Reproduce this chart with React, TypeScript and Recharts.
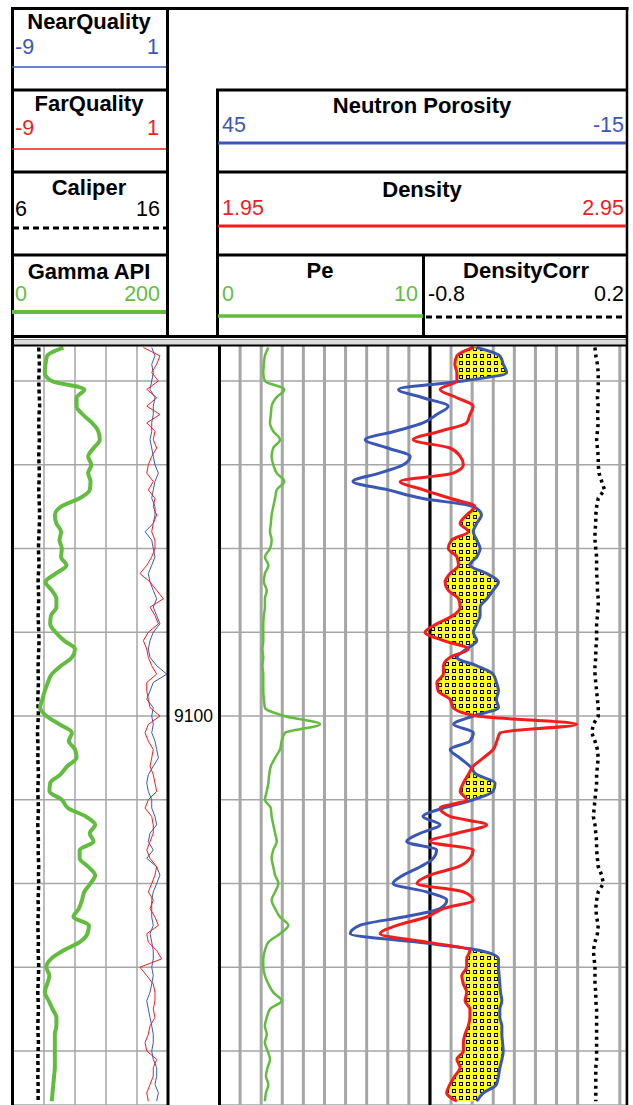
import React from 'react';
import { ComposedChart, Line, Area, XAxis, YAxis, CartesianGrid, ReferenceLine } from 'recharts';

const depths = [
  9056, 9057, 9058, 9059, 9060, 9061, 9062, 9063, 9064, 9065,
  9066, 9067, 9068, 9069, 9070, 9071, 9072, 9073, 9074, 9075,
  9076, 9077, 9078, 9079, 9080, 9081, 9082, 9083, 9084, 9085,
  9086, 9087, 9088, 9089, 9090, 9091, 9092, 9093, 9094, 9095,
  9096, 9097, 9098, 9099, 9100, 9101, 9102, 9103, 9104, 9105,
  9106, 9107, 9108, 9109, 9110, 9111, 9112, 9113, 9114, 9115,
  9116, 9117, 9118, 9119, 9120, 9121, 9122, 9123, 9124, 9125,
  9126, 9127, 9128, 9129, 9130, 9131, 9132, 9133, 9134, 9135,
  9136, 9137, 9138, 9139, 9140, 9141, 9142, 9143, 9144, 9145,
  9146,
];

const gammaApi = [
  65, 44, 42, 41, 50, 92, 82, 82, 90, 102,
  110, 112, 104, 97, 101, 97, 100, 99, 86, 62,
  54, 56, 62, 60, 63, 62, 69, 55, 42, 50,
  56, 56, 49, 48, 55, 66, 80, 76, 62, 50,
  45, 41, 38, 35, 43, 60, 76, 72, 80, 82,
  70, 61, 48, 47, 63, 71, 94, 106, 99, 104,
  86, 86, 97, 106, 100, 92, 89, 85, 78, 98,
  96, 86, 65, 49, 43, 47, 44, 41, 46, 51,
  56, 56, 54, 54, 54, 54, 54, 53, 52, 51,
  50,
];

const caliper = [
  7.66, 7.68, 7.7, 7.68, 7.66, 7.68, 7.7, 7.72, 7.68, 7.66,
  7.68, 7.7, 7.68, 7.66, 7.68, 7.7, 7.68, 7.66, 7.68, 7.7,
  7.72, 7.7, 7.68, 7.66, 7.64, 7.66, 7.68, 7.64, 7.62, 7.64,
  7.66, 7.64, 7.62, 7.64, 7.66, 7.68, 7.66, 7.64, 7.62, 7.62,
  7.64, 7.62, 7.6, 7.62, 7.64, 7.6, 7.58, 7.6, 7.62, 7.6,
  7.62, 7.64, 7.62, 7.6, 7.62, 7.64, 7.62, 7.6, 7.62, 7.64,
  7.62, 7.64, 7.66, 7.64, 7.66, 7.64, 7.62, 7.64, 7.62, 7.6,
  7.62, 7.64, 7.62, 7.64, 7.66, 7.64, 7.62, 7.6, 7.62, 7.64,
  7.62, 7.6, 7.62, 7.64, 7.62, 7.6, 7.62, 7.6, 7.62, 7.62,
  7.62,
];

const nearQuality = [
  -0.05, 0.16, -0.05, 0.05, -0.05, -0.16, 0.16, 0.05, 0.05, -0.05,
  -0.05, -0.16, -0.05, 0.05, 0.16, 0.38, 0.16, 0.05, -0.05, 0.16,
  0.16, 0.05, -0.48, -0.05, 0.05, 0.16, -0.05, -0.27, -0.16, 0.05,
  0.27, 0.05, 0.27, 0.48, 0.05, -0.16, -0.27, -0.16, 0.27, 0.92,
  0.05, -0.16, -0.37, 0.05, -0.05, 0.05, -0.05, 0.16, 0.27, 0.38,
  0.05, -0.27, -0.37, -0.27, -0.05, -0.05, 0.16, 0.27, -0.16, -0.27,
  0.05, -0.37, 0.27, 0.48, 0.27, 0.05, -0.05, -0.05, -0.05, 0.05,
  -0.16, -0.05, 0.05, 0.05, -0.05, 0.05, -0.05, -0.16, -0.37, -0.27,
  -0.16, -0.05, 0.05, 0.05, -0.05, 0.05, 0.27, 0.27, 0.16, 0.38,
  0.27,
];

const farQuality = [
  -0.59, 0.48, 0.27, -0.05, 0.38, -0.37, 0.27, -0.37, 0.48, -0.37,
  0.16, 0.05, 0.27, -0.05, -0.27, -0.37, 0.05, -0.27, 0.16, 0.05,
  0.27, 0.05, -0.05, 0.16, 0.16, -0.05, -0.37, -0.81, -0.16, 0.27,
  0.7, -0.16, 0.16, 0.38, -0.27, -0.59, -0.37, -0.27, -0.05, 0.27,
  -0.37, -0.37, -0.27, -0.16, 0.48, -0.27, -0.48, -0.27, 0.05, -0.05,
  -0.16, 0.05, 0.16, 0.27, -0.27, -0.48, -0.05, 0.05, 0.05, -0.16,
  -0.37, -0.16, 0.27, 0.16, -0.05, -0.27, 0.05, -0.16, 0.16, 0.38,
  -0.37, -0.27, 0.27, 0.59, -0.81, -0.37, 0.05, 0.16, 0.16, 0.05,
  0.16, -0.16, -0.27, -0.48, -0.37, 0.27, 0.05, 0.05, -0.16, -0.37,
  -0.27,
];

const neutronPorosity = [
  7.1, 3.7, 3.2, 2.7, 9.1, 18.6, 15.0, 11.3, 13.0, 15.0,
  19.1, 23.5, 20.2, 16.9, 17.9, 21.4, 25.3, 20.1, 15.2, 7.6,
  6.4, 7.1, 7.6, 7.1, 6.6, 7.1, 8.1, 5.6, 3.9, 4.7,
  5.6, 6.6, 6.6, 7.1, 7.6, 7.1, 8.6, 10.0, 7.1, 4.7,
  4.2, 3.9, 4.2, 3.9, 7.6, 10.5, 7.6, 8.1, 11.0, 9.6,
  8.1, 7.1, 4.4, 4.7, 7.6, 12.0, 15.0, 12.5, 15.4, 17.4,
  13.0, 13.5, 15.4, 17.9, 19.4, 14.5, 11.5, 12.5, 17.9, 24.3,
  25.7, 15.9, 6.6, 3.9, 3.9, 3.8, 3.7, 3.6, 3.4, 3.7,
  3.7, 3.4, 3.4, 3.3, 3.2, 3.4, 3.7, 3.9, 4.2, 6.1,
  7.1,
];

const density = [
  2.573, 2.533, 2.528, 2.533, 2.533, 2.492, 2.533, 2.573, 2.565, 2.557,
  2.492, 2.426, 2.516, 2.541, 2.549, 2.524, 2.394, 2.451, 2.516, 2.577,
  2.557, 2.541, 2.561, 2.52, 2.512, 2.533, 2.537, 2.516, 2.504, 2.512,
  2.537, 2.541, 2.524, 2.484, 2.455, 2.5, 2.561, 2.516, 2.5, 2.5,
  2.484, 2.487, 2.516, 2.524, 2.582, 2.827, 2.639, 2.631, 2.622, 2.598,
  2.573, 2.561, 2.549, 2.541, 2.557, 2.492, 2.516, 2.606, 2.533, 2.467,
  2.573, 2.565, 2.537, 2.467, 2.435, 2.549, 2.573, 2.5, 2.459, 2.386,
  2.345, 2.459, 2.565, 2.557, 2.557, 2.545, 2.549, 2.557, 2.553, 2.565,
  2.565, 2.561, 2.553, 2.549, 2.549, 2.533, 2.541, 2.528, 2.516, 2.508,
  2.533,
];

const peCurve = [
  2.42, 2.25, 2.2, 2.17, 2.25, 3.2, 2.8, 2.58, 2.54, 2.5,
  2.66, 2.99, 2.66, 2.58, 2.66, 2.83, 3.2, 2.83, 2.75, 2.66,
  2.58, 2.54, 2.5, 2.58, 2.5, 2.25, 2.42, 2.25, 2.2, 2.34,
  2.25, 2.25, 2.2, 2.17, 2.17, 2.17, 2.13, 2.17, 2.13, 2.17,
  2.17, 2.17, 2.2, 2.25, 3.2, 4.95, 3.24, 3.07, 2.99, 2.75,
  2.54, 2.46, 2.42, 2.34, 2.25, 2.54, 2.58, 2.66, 2.75, 2.83,
  2.66, 2.58, 2.66, 2.75, 2.91, 2.75, 2.58, 2.75, 2.99, 3.4,
  2.99, 2.42, 2.25, 2.17, 2.17, 2.25, 2.42, 2.66, 3.07, 2.5,
  2.34, 2.25, 2.34, 2.25, 2.38, 2.5, 2.38, 2.3, 2.42, 2.3,
  2.25,
];

const densityCorr = [
  0.043, 0.047, 0.055, 0.059, 0.059, 0.059, 0.055, 0.059, 0.055, 0.059,
  0.055, 0.051, 0.055, 0.059, 0.059, 0.063, 0.076, 0.09, 0.059, 0.051,
  0.047, 0.047, 0.043, 0.043, 0.047, 0.051, 0.051, 0.051, 0.055, 0.055,
  0.059, 0.059, 0.055, 0.051, 0.051, 0.051, 0.047, 0.047, 0.043, 0.043,
  0.047, 0.051, 0.055, 0.059, 0.059, 0.035, 0.027, 0.043, 0.055, 0.059,
  0.055, 0.051, 0.051, 0.047, 0.043, 0.039, 0.035, 0.043, 0.047, 0.051,
  0.051, 0.055, 0.059, 0.076, 0.084, 0.059, 0.051, 0.047, 0.051, 0.059,
  0.055, 0.043, 0.035, 0.039, 0.043, 0.043, 0.043, 0.047, 0.047, 0.051,
  0.051, 0.051, 0.051, 0.051, 0.051, 0.051, 0.047, 0.047, 0.047, 0.047,
  0.047,
];

const gridDepths = [9060, 9070, 9080, 9090, 9100, 9110, 9120, 9130, 9140];
const depthLabels = [9100];
const gammaGrid = [40, 80, 120, 160];
const rightGrid = [1, 2, 3, 4, 5, 6, 7, 8, 9, 10, 11, 12, 13, 14, 15, 16, 17, 18, 19];

const DEPTH_DOMAIN: [number, number] = [9055.7, 9146.45];
const FONT = "'Liberation Sans', Arial, Helvetica, sans-serif";
const BLUE = '#3b57b5';
const RED = '#f41c1c';
const GREEN = '#62bd3f';
const GRID = '#a6a6a6';
const YELLOW = '#ffff2a';

function Header() {
  const title = { fontFamily: FONT, fontSize: 22, fontWeight: 700, fill: '#000', textAnchor: 'middle' as const };
  const lab = { fontFamily: FONT, fontSize: 21.5 };
  const K = '#000';
  return (
    <svg width={633} height={1105} style={{ position: 'absolute', left: 0, top: 0, zIndex: 3, pointerEvents: 'none' }}>
      <rect x={12} y={339} width={615} height={6} fill="#dcdcdc" />
      <line x1={12} x2={627} y1={339.5} y2={339.5} stroke="#8c8c8c" strokeWidth={1} />
      <line x1={11} x2={628.5} y1={8.5} y2={8.5} stroke={K} strokeWidth={3} />
      <line x1={12.5} x2={12.5} y1={7} y2={1105} stroke={K} strokeWidth={3} />
      <line x1={627} x2={627} y1={7} y2={1105} stroke={K} strokeWidth={2.5} />
      <line x1={167.5} x2={167.5} y1={7} y2={337} stroke={K} strokeWidth={3} />
      <line x1={168} x2={168} y1={345} y2={1105} stroke={K} strokeWidth={3} />
      <line x1={217.5} x2={217.5} y1={89} y2={337} stroke={K} strokeWidth={3} />
      <line x1={219.5} x2={219.5} y1={345} y2={1105} stroke={K} strokeWidth={3} />
      <line x1={11} x2={168} y1={90} y2={90} stroke={K} strokeWidth={3} />
      <line x1={11} x2={168} y1={172} y2={172} stroke={K} strokeWidth={3} />
      <line x1={11} x2={168} y1={255} y2={255} stroke={K} strokeWidth={3} />
      <line x1={216} x2={628} y1={90} y2={90} stroke={K} strokeWidth={3} />
      <line x1={216} x2={628} y1={172} y2={172} stroke={K} strokeWidth={3} />
      <line x1={216} x2={628} y1={255} y2={255} stroke={K} strokeWidth={3} />
      <line x1={11} x2={628} y1={336.5} y2={336.5} stroke={K} strokeWidth={3} />
      <line x1={423.5} x2={423.5} y1={255} y2={337} stroke={K} strokeWidth={3} />
      <line x1={12} x2={627} y1={345.5} y2={345.5} stroke={K} strokeWidth={2} />

      <text x={89} y={29} {...title}>NearQuality</text>
      <text x={15} y={54} {...lab} fill={BLUE}>-9</text>
      <text x={159} y={54} {...lab} fill={BLUE} textAnchor="end">1</text>
      <line x1={12} x2={166} y1={67} y2={67} stroke={BLUE} strokeWidth={1.5} />

      <text x={89} y={111} {...title}>FarQuality</text>
      <text x={15} y={135} {...lab} fill={RED}>-9</text>
      <text x={159} y={135} {...lab} fill={RED} textAnchor="end">1</text>
      <line x1={12} x2={166} y1={149} y2={149} stroke={RED} strokeWidth={1.5} />

      <text x={89} y={195} {...title}>Caliper</text>
      <text x={15} y={216} {...lab} fill="#000">6</text>
      <text x={160} y={216} {...lab} fill="#000" textAnchor="end">16</text>
      <line x1={13} x2={166} y1={228} y2={228} stroke="#000" strokeWidth={3} strokeDasharray="6 4" />

      <text x={89} y={279} {...title}>Gamma API</text>
      <text x={15} y={301} {...lab} fill={GREEN}>0</text>
      <text x={160} y={301} {...lab} fill={GREEN} textAnchor="end">200</text>
      <line x1={12} x2={166} y1={312} y2={312} stroke={GREEN} strokeWidth={4} />

      <text x={422} y={113} {...title}>Neutron Porosity</text>
      <text x={222} y={132} {...lab} fill={BLUE}>45</text>
      <text x={624} y={132} {...lab} fill={BLUE} textAnchor="end">-15</text>
      <line x1={218} x2={626} y1={143} y2={143} stroke={BLUE} strokeWidth={3} />

      <text x={422} y={197} {...title}>Density</text>
      <text x={222} y={215} {...lab} fill={RED}>1.95</text>
      <text x={624} y={215} {...lab} fill={RED} textAnchor="end">2.95</text>
      <line x1={218} x2={626} y1={226} y2={226} stroke={RED} strokeWidth={3} />

      <text x={320} y={278} {...title}>Pe</text>
      <text x={222} y={301} {...lab} fill={GREEN}>0</text>
      <text x={418} y={301} {...lab} fill={GREEN} textAnchor="end">10</text>
      <line x1={218} x2={423} y1={316} y2={316} stroke={GREEN} strokeWidth={3.5} />

      <text x={526} y={278} {...title}>DensityCorr</text>
      <text x={428} y={301} {...lab} fill="#000">-0.8</text>
      <text x={624} y={301} {...lab} fill="#000" textAnchor="end">0.2</text>
      <line x1={426} x2={626} y1={317} y2={317} stroke="#000" strokeWidth={3} strokeDasharray="6 4" />
    </svg>
  );
}

export default function App() {
  const rows = depths.map((depth, i) => {
    const nEq = 1.95 + (45 - neutronPorosity[i]) / 60;
    return {
      depth,
      gamma: gammaApi[i],
      cal: caliper[i],
      nq: nearQuality[i],
      fq: farQuality[i],
      nphi: neutronPorosity[i],
      rhob: density[i],
      pe: peCurve[i],
      dc: densityCorr[i],
      xover: [density[i], Math.max(density[i], nEq)],
    };
  });

  return (
    <div style={{ position: 'absolute', left: 0, top: 0, width: 633, height: 1105, overflow: 'hidden', background: '#fff' }}>
      <Header />
      <div style={{ position: 'absolute', left: 13, top: 345, zIndex: 1 }}>
        <ComposedChart width={206} height={760} data={rows} layout="vertical" margin={{ top: 0, right: 0, bottom: 0, left: 0 }}>
          <XAxis xAxisId="gr" type="number" domain={[0, 200]} ticks={gammaGrid} allowDataOverflow hide />
          <XAxis xAxisId="cal" type="number" domain={[6, 16]} allowDataOverflow hide />
          <XAxis xAxisId="q" type="number" domain={[-9, 1]} allowDataOverflow hide />
          <YAxis yAxisId="g" type="number" dataKey="depth" domain={DEPTH_DOMAIN} ticks={gridDepths} allowDataOverflow hide />
          <YAxis
            yAxisId="d"
            type="number"
            dataKey="depth"
            domain={DEPTH_DOMAIN}
            allowDataOverflow
            orientation="right"
            width={51}
            ticks={depthLabels}
            tickLine={false}
            axisLine={false}
            tickSize={0}
            tickMargin={6}
            tick={{ fill: '#000', fontSize: 17.5, fontFamily: FONT }}
          />
          <CartesianGrid xAxisId="gr" yAxisId="g" stroke={GRID} strokeWidth={1.5} />
          <Line xAxisId="cal" yAxisId="d" dataKey="cal" type="linear" stroke="#000" strokeWidth={3.5} strokeDasharray="4 3" dot={false} activeDot={false} isAnimationActive={false} />
          <Line xAxisId="q" yAxisId="d" dataKey="nq" type="linear" stroke={BLUE} strokeWidth={1} dot={false} activeDot={false} isAnimationActive={false} />
          <Line xAxisId="q" yAxisId="d" dataKey="fq" type="linear" stroke={RED} strokeWidth={1} dot={false} activeDot={false} isAnimationActive={false} />
          <Line xAxisId="gr" yAxisId="d" dataKey="gamma" type="monotone" stroke={GREEN} strokeWidth={4} strokeLinejoin="round" dot={false} activeDot={false} isAnimationActive={false} />
        </ComposedChart>
      </div>
      <div style={{ position: 'absolute', left: 219, top: 345, zIndex: 1 }}>
        <ComposedChart width={408} height={760} data={rows} layout="vertical" margin={{ top: 0, right: 0, bottom: 0, left: 0 }}>
          <defs>
            <pattern id="xoverDots" width={7} height={7} patternUnits="userSpaceOnUse">
              <rect width={7} height={7} fill={YELLOW} />
              <rect x={2.5} y={2.5} width={3} height={3} fill="none" stroke="#000" strokeWidth={1} />
            </pattern>
          </defs>
          <XAxis xAxisId="g" type="number" domain={[0, 19.34]} ticks={rightGrid} allowDataOverflow hide />
          <XAxis xAxisId="nphi" type="number" domain={[-15, 45]} reversed allowDataOverflow hide />
          <XAxis xAxisId="rho" type="number" domain={[1.95, 2.95]} allowDataOverflow hide />
          <XAxis xAxisId="pe" type="number" domain={[0, 20]} allowDataOverflow hide />
          <XAxis xAxisId="dc" type="number" domain={[-1.8, 0.2]} allowDataOverflow hide />
          <YAxis yAxisId="g" type="number" dataKey="depth" domain={DEPTH_DOMAIN} ticks={gridDepths} allowDataOverflow hide />
          <YAxis yAxisId="d" type="number" dataKey="depth" domain={DEPTH_DOMAIN} allowDataOverflow hide />
          <CartesianGrid xAxisId="g" yAxisId="g" vertical={false} stroke={GRID} strokeWidth={1.5} />
          <CartesianGrid xAxisId="g" yAxisId="g" horizontal={false} stroke={GRID} strokeWidth={3} />
          <Area xAxisId="rho" yAxisId="d" dataKey="xover" type="monotone" stroke="none" fill="url(#xoverDots)" fillOpacity={1} dot={false} activeDot={false} isAnimationActive={false} />
          <ReferenceLine xAxisId="g" yAxisId="d" x={10} stroke="#000" strokeWidth={3} />
          <Line xAxisId="pe" yAxisId="d" dataKey="pe" type="monotone" stroke={GREEN} strokeWidth={2.5} dot={false} activeDot={false} isAnimationActive={false} />
          <Line xAxisId="dc" yAxisId="d" dataKey="dc" type="linear" stroke="#000" strokeWidth={3.5} strokeDasharray="3 4" dot={false} activeDot={false} isAnimationActive={false} />
          <Line xAxisId="nphi" yAxisId="d" dataKey="nphi" type="monotone" stroke={BLUE} strokeWidth={3} strokeLinejoin="round" dot={false} activeDot={false} isAnimationActive={false} />
          <Line xAxisId="rho" yAxisId="d" dataKey="rhob" type="monotone" stroke={RED} strokeWidth={3} strokeLinejoin="round" dot={false} activeDot={false} isAnimationActive={false} />
        </ComposedChart>
      </div>
    </div>
  );
}
